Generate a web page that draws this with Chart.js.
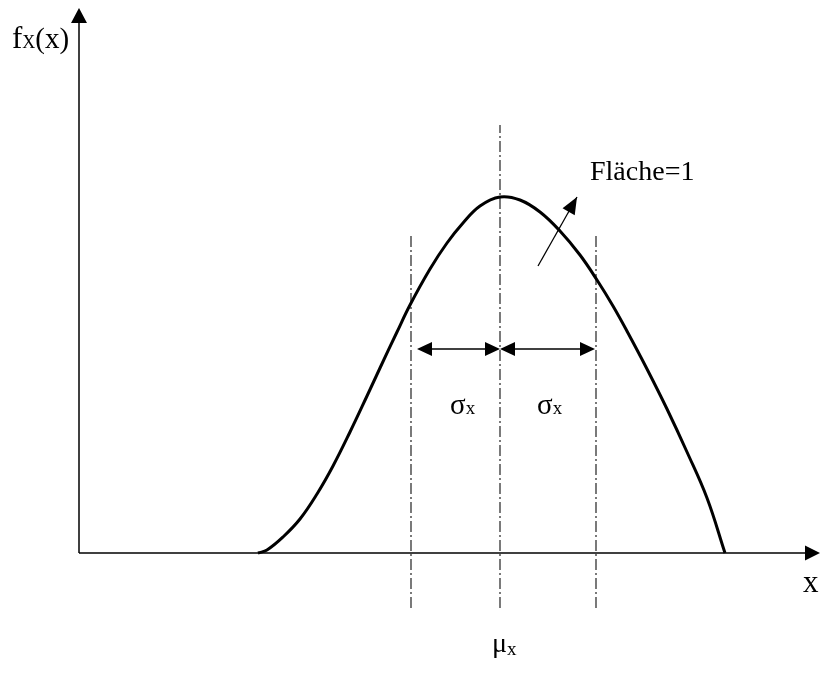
<!DOCTYPE html>
<html>
<head>
<meta charset="utf-8">
<script src="https://cdn.jsdelivr.net/npm/chart.js@4/dist/chart.umd.min.js"></script>
<style>
  html, body { margin: 0; padding: 0; background: #fff; }
  canvas { display: block; }
</style>
</head>
<body>
<canvas id="myChart" width="826" height="675"></canvas>
<script>
// density curve f_X(x), read in plot units
var curveX = [17.9, 18.8, 20.4, 22.1, 23.8, 25.4, 27.1, 28.8, 30.1, 31.8, 33.1, 35.1, 36.8, 38.4, 40.1, 42.1,
              44.1, 46.1, 48.1, 50.1, 51.8, 53.4, 54.9, 56.8, 58.8, 60.8, 62.8, 64.6];
var curveY = [0.0, 0.3, 1.6, 3.4, 5.9, 8.7, 12.1, 15.7, 18.5, 22.1, 24.8, 28.4, 31.0, 33.0, 34.7, 35.6,
              35.3, 34.1, 32.2, 29.8, 27.3, 24.7, 22.0, 18.4, 14.4, 10.1, 5.5, 0.0];

// mean and the two sigma positions
var mu = 42.1;
var sigmaLeft = 33.2;
var sigmaRight = 51.7;

// extent of the dash-dot guides
var guideBottom = -5.5;
var guideTopSigma = 32.0;
var guideTopMu = 42.8;

// axes ends
var xAxisEnd = 74.1;
var yAxisEnd = 54.5;

// dimension arrows between the guides, and the "area" pointer
var sigmaArrowLevel = 20.4;
var sigmaArrows = [[33.8, 42.1], [42.1, 51.6]];
var areaPointer = [[45.9, 28.7], [49.8, 35.6]];

var serif = '"Liberation Serif", "DejaVu Serif", serif';

function guide(x, top) {
  return {
    data: [{x: x, y: guideBottom}, {x: x, y: top}],
    borderColor: '#222',
    borderWidth: 1.2,
    borderDash: [11, 3, 2, 3],
    pointRadius: 0,
    tension: 0,
    fill: false
  };
}

function arrowHead(ctx, x1, y1, x2, y2, len, half) {
  var a = Math.atan2(y2 - y1, x2 - x1);
  ctx.beginPath();
  ctx.moveTo(x2, y2);
  ctx.lineTo(x2 - len * Math.cos(a) + half * Math.sin(a), y2 - len * Math.sin(a) - half * Math.cos(a));
  ctx.lineTo(x2 - len * Math.cos(a) - half * Math.sin(a), y2 - len * Math.sin(a) + half * Math.cos(a));
  ctx.closePath();
  ctx.fill();
}

function line(ctx, x1, y1, x2, y2, w) {
  ctx.lineWidth = w;
  ctx.beginPath();
  ctx.moveTo(x1, y1);
  ctx.lineTo(x2, y2);
  ctx.stroke();
}

// text with a subscript on the same baseline
function subText(ctx, parts, x, y) {
  parts.forEach(function (p) {
    ctx.font = p.size + 'px ' + serif;
    ctx.fillText(p.t, x, y + (p.drop || 0));
    x += ctx.measureText(p.t).width;
  });
}

var decorations = {
  id: 'decorations',
  afterDatasetsDraw: function (chart) {
    var ctx = chart.ctx;
    var sx = chart.scales.x, sy = chart.scales.y;
    var px = function (v) { return sx.getPixelForValue(v); };
    var py = function (v) { return sy.getPixelForValue(v); };
    ctx.save();
    ctx.strokeStyle = '#000';
    ctx.fillStyle = '#000';

    // axes with arrows
    var ox = px(0), oy = py(0);
    line(ctx, ox, oy, px(xAxisEnd) - 12, oy, 1.5);
    arrowHead(ctx, ox, oy, px(xAxisEnd), oy, 15, 7.5);
    line(ctx, ox, oy, ox, py(yAxisEnd) + 12, 1.5);
    arrowHead(ctx, ox, oy, ox, py(yAxisEnd), 15, 8);

    // sigma dimension arrows
    var ay = py(sigmaArrowLevel);
    sigmaArrows.forEach(function (s) {
      var a = px(s[0]), b = px(s[1]);
      line(ctx, a + 8, ay, b - 8, ay, 1.5);
      arrowHead(ctx, b, ay, a, ay, 15, 7);
      arrowHead(ctx, a, ay, b, ay, 15, 7);
    });

    // pointer to the area label
    var p0x = px(areaPointer[0][0]), p0y = py(areaPointer[0][1]);
    var p1x = px(areaPointer[1][0]), p1y = py(areaPointer[1][1]);
    line(ctx, p0x, p0y, p1x, p1y, 1.3);
    arrowHead(ctx, p0x, p0y, p1x, p1y, 17, 7);

    // labels
    ctx.textBaseline = 'alphabetic';
    ctx.textAlign = 'left';
    subText(ctx, [{t: 'Fläche=1', size: 28}], px(51.1), py(37.3));
    subText(ctx, [{t: 'σ', size: 29}, {t: 'x', size: 19}], px(37.1), py(13.9));
    subText(ctx, [{t: 'σ', size: 29}, {t: 'x', size: 19}], px(45.8), py(13.9));
    subText(ctx, [{t: 'μ', size: 28}, {t: 'x', size: 19, drop: 3}], px(41.3), py(-9.9));
    subText(ctx, [{t: 'x', size: 31}], px(72.4), py(-3.9));
    subText(ctx, [{t: 'f', size: 31}, {t: 'X', size: 18}, {t: '(x)', size: 29}], px(-6.7), py(50.5));
    ctx.restore();
  }
};

var ctx = document.getElementById('myChart').getContext('2d');
var myChart = new Chart(ctx, {
  type: 'line',
  data: {
    datasets: [
      {
        data: curveX.map(function (x, i) { return {x: x, y: curveY[i]}; }),
        borderColor: '#000',
        borderWidth: 3,
        pointRadius: 0,
        tension: 0.4,
        fill: false
      },
      guide(sigmaLeft, guideTopSigma),
      guide(mu, guideTopMu),
      guide(sigmaRight, guideTopSigma)
    ]
  },
  options: {
    responsive: false,
    animation: false,
    layout: { padding: 0 },
    scales: {
      x: { type: 'linear', display: false, min: -7.9, max: 74.7 },
      y: { display: false, min: -12.2, max: 55.3 }
    },
    plugins: {
      legend: { display: false },
      tooltip: { enabled: false },
      title: { display: false }
    }
  },
  plugins: [decorations]
});
</script>
</body>
</html>
